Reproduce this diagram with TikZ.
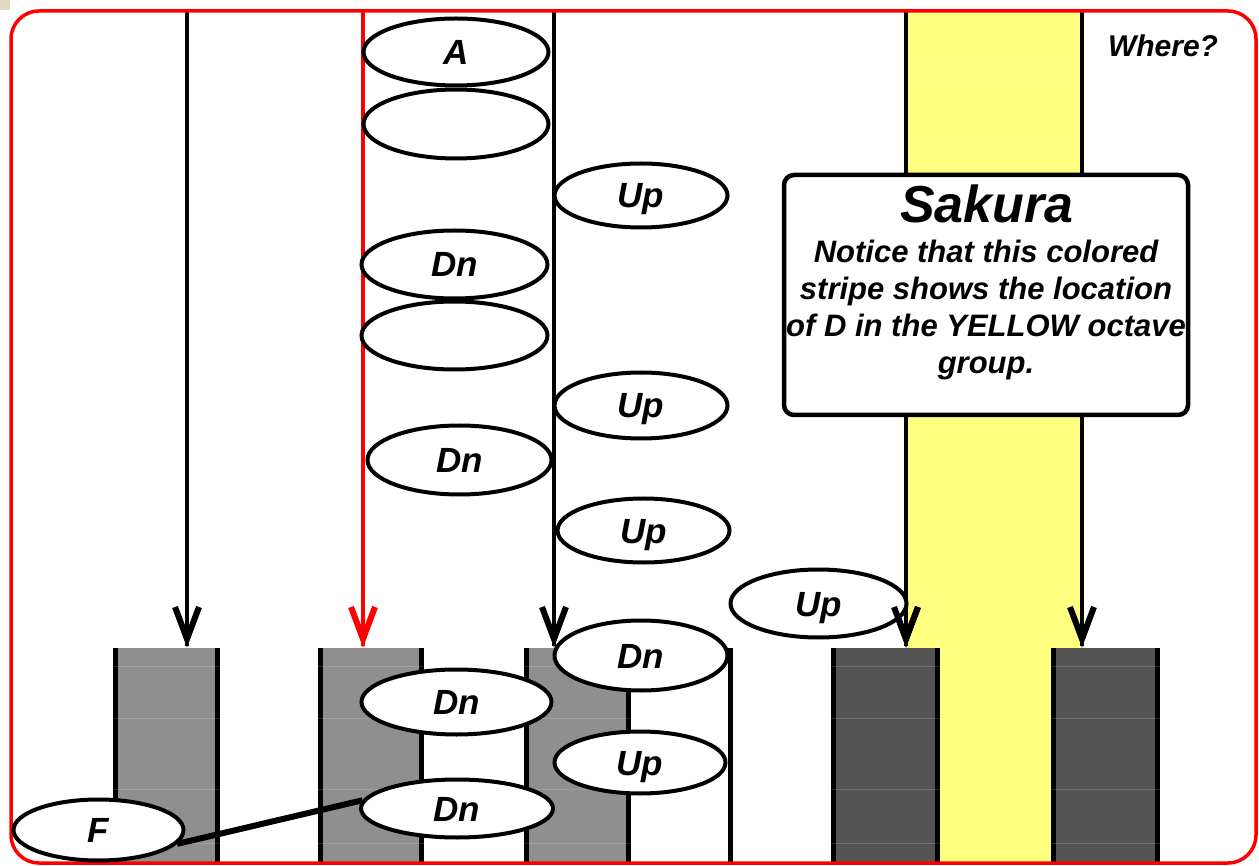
\documentclass[tikz,border=0pt]{standalone}
\usepackage{fontspec}
\setmainfont{Liberation Sans}
\usetikzlibrary{shapes.geometric}
\definecolor{keygray}{HTML}{8F8F8F}
\definecolor{keydark}{HTML}{545454}
\definecolor{stripe}{HTML}{FFFF80}
\definecolor{cornerbg}{HTML}{E0DCC4}
\definecolor{borderred}{HTML}{FF0000}
\tikzset{
  oval/.style n args={2}{ellipse, draw=black, line width=4pt, fill=white, inner sep=0pt,
    minimum width=#1pt, minimum height=#2pt, text height=25pt, text depth=0pt,
    font=\fontsize{35}{35}\selectfont\bfseries\itshape},
  keyline/.style={line width=5pt, black},
  shaft/.style={line width=4.5pt},
  vhead/.style={line width=6pt, miter limit=10},
  tick/.style={white, opacity=0.15, line width=1pt},
}
\begin{document}
\begin{tikzpicture}[x=1pt,y=-1pt]
\useasboundingbox (0,0) rectangle (1259,866);
\fill[white] (0,0) rectangle (1259,866);
\fill[cornerbg] (0,0) rectangle (10,10);
% yellow stripe
\fill[stripe] (906,11) rectangle (1082,862);
\foreach \y in {80,152} \draw[tick] (902,\y) -- (1086,\y);
% keys
\foreach \l/\r/\f in {115/217/keygray, 320/421/keygray, 526/628/keygray, 833/937/keydark, 1053/1157/keydark} {
  \fill[\f] (\l,648) rectangle (\r,862);
  \draw[keyline] (\l,648) -- (\l,863);
  \draw[keyline] (\r,648) -- (\r,863);
  \foreach \y in {666,718,789,843} \draw[tick] (\l-3,\y) -- (\r+3,\y);
}
\draw[keyline] (730,648) -- (730,863);
% arrows
\foreach \n/\x/\c in {a/187/black, b/363/borderred, c/554/black, d/906/black, e/1082/black} {
  \coordinate (top\n) at (\x,11);
  \coordinate (tip\n) at (\x,639);
  \draw[shaft,\c] (top\n) -- (\x,646);
  \draw[vhead,\c] ([shift={(-12,-32)}]tip\n) -- (tip\n) -- ([shift={(12,-32)}]tip\n);
}
% border
\draw[borderred, line width=3.5pt, rounded corners=28pt] (11,11) rectangle (1256,863);
% ovals
\node[oval={185}{67}] (o1) at (456,52) {A};
\node[oval={185}{69}] (o2) at (456,124) {};
\node[oval={173}{64}] (o3) at (641,195.5) {Up};
\node[oval={186}{68}] (o4) at (454.5,264.5) {Dn};
\node[oval={186}{68}] (o5) at (454.5,335.5) {};
\node[oval={173}{66}] (o6) at (641,405.5) {Up};
\node[oval={184}{69}] (o7) at (459.5,460) {Dn};
\node[oval={172}{64}] (o8) at (643.5,530.5) {Up};
\node[oval={176}{68}] (o9) at (818.5,603.5) {Up};
\draw[vhead] ([shift={(-12,-32)}]tipd) -- (tipd) -- ([shift={(12,-32)}]tipd);
\node[oval={173}{70}] (o10) at (641,655.5) {Dn};
\node[oval={190}{65}] (o11) at (456.5,702) {Dn};
\node[oval={171}{62}] (o12) at (640,762.5) {Up};
\node[oval={192}{58}] (o13) at (457,808.5) {Dn};
\node[oval={170}{61}] (F) at (98.5,830) {F};
\draw[line width=6pt] (F.-10) -- (o13.175);
% Sakura box
\node[draw, line width=4.5pt, rounded corners=10pt, fill=white, minimum width=404pt, minimum height=240pt, inner sep=0pt] (box) at (986,295) {};
\node[anchor=base, inner sep=0pt, font=\fontsize{52}{52}\selectfont\bfseries\itshape] (title) at (987,223) {Sakura};
\node[anchor=base, inner sep=0pt, align=center, font=\fontsize{31}{37}\selectfont\bfseries\itshape] (body) at (986,374) {Notice that this colored\\stripe shows the location\\of D in the YELLOW octave\\group.};
\node[anchor=base, inner sep=0pt, font=\fontsize{30}{30}\selectfont\bfseries\itshape] (where) at (1163,57) {Where?};
\end{tikzpicture}
\end{document}
